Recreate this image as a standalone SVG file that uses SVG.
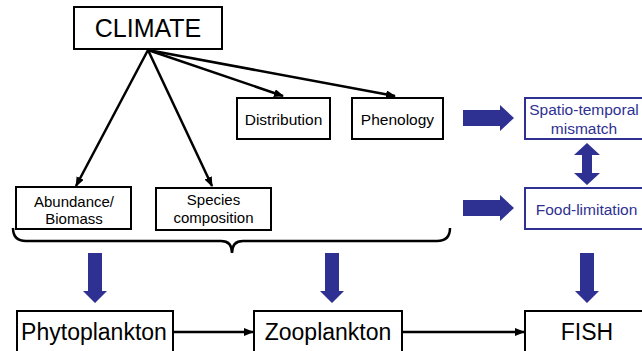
<svg xmlns="http://www.w3.org/2000/svg" width="642" height="351" viewBox="0 0 642 351">
<style>
.box{fill:#fff;stroke:#000;stroke-width:2}
.bbox{fill:#fff;stroke:#2E3192;stroke-width:2}
.t{font-family:"Liberation Sans",Arial,sans-serif;fill:#000;text-anchor:middle}
.bt{font-family:"Liberation Sans",Arial,sans-serif;fill:#2E3192;text-anchor:middle}
.ln{stroke:#000;stroke-width:2.5;fill:none}
.blk{fill:#2E3192}
</style>
<defs>
<marker id="ah" markerWidth="10" markerHeight="8" refX="9" refY="4" orient="auto" markerUnits="userSpaceOnUse">
<path d="M0,0 L10,4 L0,8 Z" fill="#000"/>
</marker>
</defs>
<rect width="642" height="351" fill="#fff"/>
<g id="connectors">
<line class="ln" x1="148" y1="50" x2="76" y2="186" marker-end="url(#ah)"/>
<line class="ln" x1="148" y1="50" x2="212" y2="186" marker-end="url(#ah)"/>
<line class="ln" x1="148" y1="50" x2="283" y2="96" marker-end="url(#ah)"/>
<line class="ln" x1="148" y1="50" x2="395" y2="96" marker-end="url(#ah)"/>
<path class="ln" d="M13,228 Q13,241 26,241 L221,241 Q232,241 232,253 Q232,241 243,241 L437,241 Q450,241 450,228" stroke-width="2"/>
<line class="ln" x1="173" y1="332" x2="253" y2="332" marker-end="url(#ah)"/>
<line class="ln" x1="402" y1="332" x2="524" y2="332" marker-end="url(#ah)"/>
<path class="blk" d="M463,110 L500,110 L500,105 L514,118 L500,131 L500,126 L463,126 Z"/>
<path class="blk" d="M463,200 L500,200 L500,195 L514,208 L500,221 L500,216 L463,216 Z"/>
<path class="blk" d="M587,143 L600,155 L592,155 L592,173 L600,173 L587,185 L574,173 L582,173 L582,155 L574,155 Z"/>
<path class="blk" d="M88,253 L102,253 L102,291 L107,291 L95,303 L83,291 L88,291 Z"/>
<path class="blk" d="M325,253 L339,253 L339,291 L344,291 L332,303 L320,291 L325,291 Z"/>
<path class="blk" d="M580,253 L594,253 L594,291 L599,291 L587,303 L575,291 L580,291 Z"/>
</g>
<g id="climate">
<rect class="box" x="74" y="7" width="148" height="42"/>
<text class="t" x="148" y="37" font-size="25">CLIMATE</text>
</g>
<g id="distribution">
<rect class="box" x="237" y="98" width="93" height="41"/>
<text class="t" x="283.5" y="125" font-size="15.5">Distribution</text>
</g>
<g id="phenology">
<rect class="box" x="352" y="98" width="91" height="41"/>
<text class="t" x="397.5" y="125" font-size="15.5">Phenology</text>
</g>
<g id="mismatch">
<rect class="bbox" x="525" y="98" width="125" height="41"/>
<text class="bt" x="584" y="115" font-size="15.5">Spatio-temporal</text>
<text class="bt" x="584" y="134" font-size="15.5">mismatch</text>
</g>
<g id="food">
<rect class="bbox" x="525" y="188" width="125" height="41"/>
<text class="bt" x="586.5" y="215" font-size="15.5">Food-limitation</text>
</g>
<g id="abundance">
<rect class="box" x="16" y="187" width="115" height="42"/>
<text class="t" x="74" y="207" font-size="15">Abundance/</text>
<text class="t" x="74" y="224" font-size="15">Biomass</text>
</g>
<g id="species">
<rect class="box" x="156" y="188" width="115" height="42"/>
<text class="t" x="213.5" y="205" font-size="15">Species</text>
<text class="t" x="213.5" y="223" font-size="15">composition</text>
</g>
<g id="phytoplankton">
<rect class="box" x="17" y="311" width="156" height="50"/>
<text class="t" x="94" y="340" font-size="23">Phytoplankton</text>
</g>
<g id="zooplankton">
<rect class="box" x="254" y="311" width="148" height="50"/>
<text class="t" x="328" y="340" font-size="23">Zooplankton</text>
</g>
<g id="fish">
<rect class="box" x="525" y="311" width="125" height="50"/>
<text class="t" x="587" y="340" font-size="23">FISH</text>
</g>
</svg>
